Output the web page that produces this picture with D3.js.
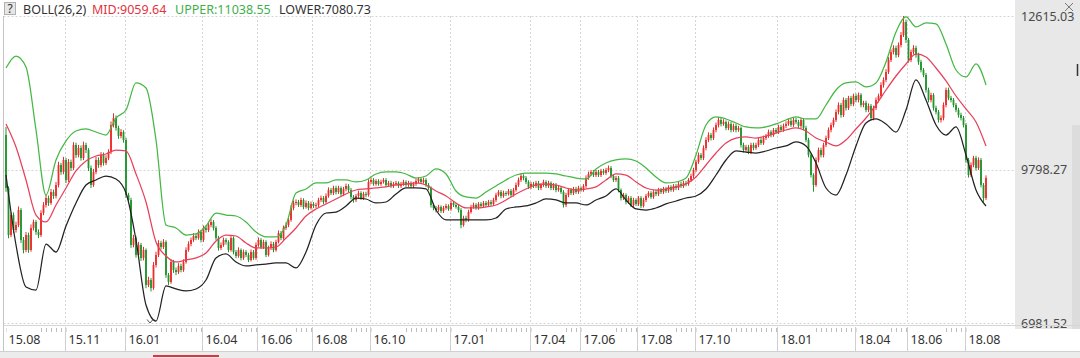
<!DOCTYPE html>
<html><head><meta charset="utf-8">
<script src="https://d3js.org/d3.v7.min.js"></script>
<style>html,body{margin:0;padding:0;background:#fff;overflow:hidden}svg{display:block}text{font-family:"Noto Sans","Liberation Sans",Arial,sans-serif}</style>
</head><body><svg id="chart" width="1080" height="358"></svg>
<script>
// ---------- data ----------
const headerTexts = ["BOLL(26,2)", "MID:9059.64", "UPPER:11038.55", "LOWER:7080.73"];
const priceTicks = [12615.03, 9798.27, 6981.52];
const monthLabels = ["15.08","15.11","16.01","16.04","16.06","16.08","16.10","17.01","17.04","17.06","17.08","17.10","18.01","18.04","18.06","18.08"];
const monthIndex = [0,24,48,79,101,123,146,178,210,230,253,276,309,340,361,384];

const opens = [10432,9459,8596,8963,8688,8780,9055,8505,8321,8596,8321,8725,8835,8651,8596,9000,9147,9275,9184,9385,9312,9514,9881,9753,9973,9606,9936,9826,10248,10064,10193,10009,10248,10156,9826,9514,9753,9973,9881,10064,9918,10009,10119,10615,10743,10560,10413,10486,10340,9330,9239,8413,8541,8230,8413,8175,8321,7679,7771,7624,8046,8230,8450,8376,8468,7863,7734,8101,7954,7917,8028,7954,8101,8321,8431,8505,8578,8541,8651,8505,8725,8688,8780,8835,8725,8541,8358,8413,8505,8468,8321,8541,8284,8211,8321,8175,8284,8230,8138,8284,8175,8413,8505,8376,8468,8230,8358,8431,8321,8468,8633,8541,8725,8780,8872,9092,9184,9202,9147,9239,9111,9184,9092,9166,9129,9147,9239,9275,9202,9312,9422,9367,9459,9385,9459,9349,9441,9496,9422,9294,9239,9312,9367,9275,9349,9330,9569,9606,9532,9587,9532,9569,9606,9514,9551,9496,9532,9551,9496,9532,9569,9514,9551,9496,9532,9587,9624,9569,9606,9514,9459,9147,9092,9055,9111,9037,9092,9129,9074,9184,9147,9111,9055,8780,8908,8872,9018,9111,9147,9092,9166,9129,9184,9147,9202,9166,9239,9330,9385,9312,9367,9349,9404,9330,9422,9514,9606,9679,9642,9569,9478,9532,9496,9551,9459,9514,9569,9496,9551,9459,9514,9422,9459,9385,9147,9330,9422,9367,9441,9385,9459,9422,9496,9642,9716,9753,9697,9753,9697,9771,9734,9789,9826,9679,9606,9642,9422,9275,9330,9202,9275,9147,9239,9166,9275,9129,9239,9312,9367,9294,9385,9349,9422,9385,9441,9404,9478,9422,9496,9459,9532,9496,9551,9532,9606,9679,9789,9936,10064,10009,10193,10340,10431,10376,10523,10615,10707,10634,10670,10560,10634,10523,10597,10523,10560,10248,10156,10211,10119,10248,10193,10248,10340,10285,10376,10413,10486,10431,10523,10486,10579,10523,10597,10634,10689,10615,10707,10670,10597,10707,10560,10340,10064,9697,9514,9973,10156,10064,10248,10376,10523,10615,10707,10853,10982,10798,11074,10927,11110,11001,11147,11074,11165,10982,11019,10890,10964,10743,10927,11074,11147,11349,11441,11587,11808,11954,12028,11899,12083,12266,12505,12175,11808,11954,12028,11899,11771,11624,11532,11257,11074,11165,10927,10853,10707,10743,10982,11257,11110,11074,10982,10890,10798,10743,10615,9973,9697,9881,10009,9826,9973,9514,9275];

const closes = [9459,8596,8963,8688,8780,9055,8505,8321,8596,8321,8725,8835,8651,8596,9000,9147,9275,9184,9385,9312,9514,9881,9753,9973,9606,9936,9826,10248,10064,10193,10009,10248,10156,9826,9514,9753,9973,9881,10064,9918,10009,10119,10615,10743,10560,10413,10486,10340,9330,9239,8413,8541,8230,8413,8175,8321,7679,7771,7624,8046,8230,8450,8376,8468,7863,7734,8101,7954,7917,8028,7954,8101,8321,8431,8505,8578,8541,8651,8505,8725,8688,8780,8835,8725,8541,8358,8413,8505,8468,8321,8541,8284,8211,8321,8175,8284,8230,8138,8284,8175,8413,8505,8376,8468,8230,8358,8431,8321,8468,8633,8541,8725,8780,8872,9092,9184,9202,9147,9239,9111,9184,9092,9166,9129,9147,9239,9275,9202,9312,9422,9367,9459,9385,9459,9349,9441,9496,9422,9294,9239,9312,9367,9275,9349,9330,9569,9606,9532,9587,9532,9569,9606,9514,9551,9496,9532,9551,9496,9532,9569,9514,9551,9496,9532,9587,9624,9569,9606,9514,9459,9147,9092,9055,9111,9037,9092,9129,9074,9184,9147,9111,9055,8780,8908,8872,9018,9111,9147,9092,9166,9129,9184,9147,9202,9166,9239,9330,9385,9312,9367,9349,9404,9330,9422,9514,9606,9679,9642,9569,9478,9532,9496,9551,9459,9514,9569,9496,9551,9459,9514,9422,9459,9385,9147,9330,9422,9367,9441,9385,9459,9422,9496,9642,9716,9753,9697,9753,9697,9771,9734,9789,9826,9679,9606,9642,9422,9275,9330,9202,9275,9147,9239,9166,9275,9129,9239,9312,9367,9294,9385,9349,9422,9385,9441,9404,9478,9422,9496,9459,9532,9496,9551,9532,9606,9679,9789,9936,10064,10009,10193,10340,10431,10376,10523,10615,10707,10634,10670,10560,10634,10523,10597,10523,10560,10248,10156,10211,10119,10248,10193,10248,10340,10285,10376,10413,10486,10431,10523,10486,10579,10523,10597,10634,10689,10615,10707,10670,10597,10707,10560,10340,10064,9697,9514,9973,10156,10064,10248,10376,10523,10615,10707,10853,10982,10798,11074,10927,11110,11001,11147,11074,11165,10982,11019,10890,10964,10743,10927,11074,11147,11349,11441,11587,11808,11954,12028,11899,12083,12266,12505,12175,11808,11954,12028,11899,11771,11624,11532,11257,11074,11165,10927,10853,10707,10743,10982,11257,11110,11074,10982,10890,10798,10743,10615,9973,9697,9881,10009,9826,9973,9514,9275,9642];

const highs = [10579,9489,9013,9010,8840,9120,9090,8560,8650,8640,8790,8880,8870,8700,9050,9200,9330,9320,9440,9430,9570,9940,9920,10030,10010,9990,9980,10300,10290,10250,10240,10310,10290,10190,9870,9810,10030,10020,10120,10110,10060,10170,10680,10830,10790,10600,10540,10520,10380,9370,9280,8600,8580,8470,8450,8380,8350,7830,7810,8100,8290,8500,8490,8520,8500,7900,8150,8140,8000,8080,8070,8150,8370,8480,8550,8630,8620,8700,8690,8770,8770,8830,8890,8870,8760,8580,8460,8550,8540,8500,8590,8570,8320,8370,8350,8330,8320,8270,8330,8320,8460,8550,8540,8510,8500,8400,8480,8470,8510,8680,8670,8770,8830,8920,9140,9230,9250,9240,9280,9270,9230,9220,9210,9200,9190,9280,9320,9310,9360,9470,9460,9500,9500,9500,9490,9480,9540,9530,9460,9330,9350,9410,9400,9390,9390,9620,9650,9640,9620,9620,9610,9640,9640,9590,9590,9570,9590,9580,9570,9610,9600,9590,9580,9570,9630,9660,9650,9650,9640,9550,9490,9180,9130,9150,9140,9130,9170,9160,9220,9220,9180,9150,9090,8950,8950,9060,9150,9190,9180,9200,9200,9220,9220,9240,9240,9280,9370,9420,9420,9410,9400,9440,9440,9460,9560,9650,9720,9710,9680,9600,9570,9570,9590,9590,9550,9610,9600,9590,9580,9550,9550,9500,9490,9420,9370,9460,9460,9480,9480,9500,9490,9530,9690,9760,9790,9790,9790,9790,9810,9810,9830,9870,9860,9710,9680,9680,9450,9370,9360,9310,9310,9280,9270,9310,9310,9280,9350,9400,9400,9420,9420,9460,9460,9480,9480,9510,9510,9530,9530,9570,9570,9590,9590,9640,9720,9830,9980,10110,10100,10240,10390,10480,10470,10570,10660,10760,10750,10720,10700,10680,10670,10640,10640,10600,10590,10290,10250,10250,10290,10290,10290,10380,10380,10420,10450,10530,10520,10560,10560,10620,10620,10640,10680,10730,10730,10750,10750,10710,10750,10740,10600,10380,10100,9730,10020,10200,10200,10290,10420,10570,10660,10750,10900,11030,11020,11120,11110,11150,11150,11190,11190,11210,11200,11060,11060,11010,11000,10970,11120,11190,11400,11490,11640,11860,12000,12080,12070,12130,12320,12615.03,12550,12210,12000,12080,12070,11940,11810,11660,11570,11300,11210,11200,10970,10890,10790,11030,11300,11300,11150,11110,11020,10930,10840,10780,10650,10010,9930,10050,10050,10020,10010,9550,9690];

const lows = [9389,8536,8556,8630,8640,8740,8450,8260,8280,8270,8290,8680,8600,8540,8560,8960,9100,9130,9150,9260,9270,9470,9700,9710,9550,9570,9770,9790,10010,10020,9960,9970,10100,9770,9460,9480,9710,9830,9840,9870,9880,9970,10080,10570,10510,10360,10370,10290,9280,9180,8360,8370,8180,8190,8120,8130,7620,7640,7560,7590,8000,8190,8330,8340,7810,7680,7700,7900,7860,7880,7910,7920,8070,8290,8390,8470,8500,8510,8460,8470,8640,8650,8740,8680,8500,8310,8320,8380,8420,8280,8290,8240,8170,8180,8130,8140,8190,8100,8110,8140,8140,8380,8340,8340,8190,8200,8320,8280,8290,8440,8500,8510,8690,8740,8840,9050,9140,9110,9110,9070,9080,9050,9060,9090,9090,9110,9200,9160,9170,9280,9330,9330,9340,9350,9310,9310,9400,9380,9250,9190,9200,9280,9240,9240,9290,9300,9530,9500,9500,9500,9500,9540,9480,9480,9460,9460,9500,9460,9460,9500,9480,9480,9460,9460,9500,9550,9530,9540,9480,9420,9100,9050,9010,9020,9000,9000,9060,9040,9040,9110,9080,9010,8720,8750,8830,8840,8990,9080,9060,9060,9090,9100,9110,9110,9130,9130,9200,9300,9270,9280,9310,9320,9290,9300,9390,9480,9570,9600,9530,9440,9440,9460,9460,9420,9420,9480,9460,9460,9420,9420,9380,9390,9350,9100,9110,9290,9330,9330,9350,9350,9390,9390,9460,9610,9680,9660,9660,9660,9660,9700,9700,9750,9640,9570,9570,9380,9230,9240,9160,9170,9110,9110,9130,9130,9090,9100,9200,9280,9260,9260,9310,9310,9350,9350,9370,9370,9390,9390,9420,9420,9460,9460,9490,9500,9570,9640,9750,9900,9970,9970,10150,10300,10330,10340,10480,10570,10590,10600,10520,10520,10480,10490,10480,10490,10200,10110,10120,10080,10080,10150,10160,10210,10250,10250,10340,10380,10390,10400,10450,10450,10490,10490,10560,10600,10580,10580,10630,10560,10560,10520,10300,10020,9650,9390,9480,9930,10020,10020,10210,10340,10480,10570,10670,10810,10750,10760,10880,10890,10960,10960,11030,11030,10940,10940,10850,10850,10700,10700,10890,11030,11110,11300,11400,11550,11770,11910,11850,11860,12040,12230,12120,11760,11770,11910,11850,11720,11580,11490,11210,11030,11030,10880,10810,10660,10660,10700,10940,11070,11030,10940,10850,10750,10700,10570,9920,9650,9660,9840,9780,9790,9470,9200,9240];

// Bollinger band values read every 4 sessions
const bandUpper = [11661,11881,11680,10523,9330,9973,10322,10505,10542,10486,10431,10743,10890,11386,11294,10340,8780,8725,8596,8615,8762,9000,8963,8945,8835,8651,8560,8560,8780,9367,9441,9551,9551,9606,9606,9569,9606,9716,9753,9753,9716,9642,9679,9808,9716,9404,9294,9275,9385,9496,9606,9697,9734,9734,9734,9716,9679,9642,9624,9808,9918,9973,9991,9955,9826,9661,9551,9569,9642,10064,10615,10762,10725,10652,10579,10560,10579,10634,10707,10762,10725,10725,10982,11257,11386,11404,11313,11386,11771,12321,12597,12414,12487,12469,12102,11624,11496,11735,11349];
const bandMid = [10634,10211,9606,8963,8835,9147,9459,9771,9955,10046,10083,10156,10138,9716,9202,8468,8211,8101,8138,8175,8266,8487,8596,8578,8450,8358,8358,8376,8541,8725,8945,9074,9166,9257,9349,9422,9441,9459,9478,9514,9532,9551,9514,9404,9312,9184,9092,9092,9111,9147,9239,9349,9441,9514,9532,9514,9459,9422,9441,9478,9606,9716,9697,9569,9459,9422,9441,9478,9532,9661,9881,10101,10285,10376,10395,10376,10413,10468,10523,10560,10505,10376,10303,10230,10340,10542,10743,10982,11257,11514,11735,11918,11863,11661,11423,11147,10909,10670,10230];
const bandLower = [9697,8413,7642,7587,8431,8284,8762,9184,9514,9606,9679,9624,9367,8505,7312,7018,7661,7606,7569,7606,7771,8175,8248,8101,8028,8046,8064,8083,8083,7991,8284,8780,9000,9018,9129,9275,9257,9184,9202,9349,9459,9459,9441,9055,8872,8872,8872,8872,8872,8908,9074,9111,9129,9184,9257,9239,9184,9184,9147,9239,9312,9441,9239,9074,9055,9092,9166,9220,9275,9312,9441,9697,9973,10138,10119,10101,10138,10193,10230,10303,10230,9918,9459,9330,9697,10230,10652,10725,10634,10486,10890,11441,11074,10615,10431,10579,10064,9422,9129];

// ---------- drawing ----------
const svg = d3.select('#chart');
const N = closes.length;
const plotL = 3.5, plotR = 1015, plotT = 16, plotB = 323;
const x = d3.scaleLinear().domain([0, N - 1]).range([6, 986]);
const step = x(1) - x(0);
const y = d3.scaleLinear().domain(d3.extent(priceTicks)).range([plotB, plotT]);
const fnt = 12.5;

// right axis panel
svg.append('rect').attr('x', plotR).attr('y', 0).attr('width', 1080 - plotR).attr('height', 329).attr('fill', '#e8e8e8');
svg.append('rect').attr('x', 1072).attr('y', 125).attr('width', 8).attr('height', 204).attr('fill', '#dcdcdc');
svg.append('line').attr('x1', 1077.5).attr('x2', 1077.5).attr('y1', 64).attr('y2', 76).attr('stroke', '#333').attr('stroke-width', 1.5);
svg.append('path').attr('d', 'M1065,3L1073,11M1073,3L1065,11').attr('stroke', '#777').attr('stroke-width', 1).attr('fill', 'none');

// horizontal gridlines
svg.append('g').selectAll('line').data(priceTicks).join('line')
  .attr('x1', plotL).attr('x2', plotR)
  .attr('y1', d => Math.round(y(d)) + 0.5).attr('y2', d => Math.round(y(d)) + 0.5)
  .attr('stroke', '#d4d4d4').attr('stroke-dasharray', '2,2');

// vertical month gridlines
const sepX = i => Math.round(x(i) - step / 2) + 0.5;
svg.append('g').selectAll('line').data(monthIndex.slice(1)).join('line')
  .attr('x1', sepX).attr('x2', sepX).attr('y1', plotT).attr('y2', plotB)
  .attr('stroke', '#d4d4d4').attr('stroke-dasharray', '2,2');

// left border
svg.append('line').attr('x1', plotL).attr('x2', plotL).attr('y1', plotT).attr('y2', 352).attr('stroke', '#c4c4c4');

// price labels
svg.append('g').selectAll('text').data(priceTicks).join('text')
  .attr('x', 1021).attr('y', d => y(d)).attr('dy', '0.36em')
  .attr('font-size', fnt).attr('fill', '#4a4a4a').text(d => d.toFixed(2));

// candles
const upC = '#ee2a2a', dnC = '#1f952c';
const cg = svg.append('g');
const idx = d3.range(N);
cg.selectAll('line').data(idx).join('line')
  .attr('x1', i => x(i)).attr('x2', i => x(i))
  .attr('y1', i => y(highs[i])).attr('y2', i => y(lows[i]))
  .attr('stroke', i => closes[i] >= opens[i] ? upC : dnC).attr('stroke-width', 1);
cg.selectAll('rect').data(idx).join('rect')
  .attr('x', i => x(i) - 0.9).attr('width', 1.8)
  .attr('y', i => y(Math.max(opens[i], closes[i])))
  .attr('height', i => Math.max(1, Math.abs(y(opens[i]) - y(closes[i]))))
  .attr('fill', i => closes[i] >= opens[i] ? upC : dnC);

// bands
const bx = k => x(k * (N - 1) / (bandMid.length - 1));
const bandLine = d3.line().x((d, k) => bx(k)).y(d => y(d)).curve(d3.curveMonotoneX);
[[bandUpper, '#44b844'], [bandMid, '#e8405a'], [bandLower, '#222']].forEach(([arr, col]) => {
  svg.append('path').attr('d', bandLine(arr)).attr('fill', 'none').attr('stroke', col).attr('stroke-width', 1.25);
});

// header
svg.append('rect').attr('x', 4.5).attr('y', 2.5).attr('width', 11).attr('height', 12).attr('fill', '#e6e6e6').attr('stroke', '#b0b0b0');
svg.append('text').attr('x', 10).attr('y', 13).attr('text-anchor', 'middle').attr('font-size', 12).attr('fill', '#333').text('?');
const hdrX = [23, 92, 175, 279];
const hdrC = ['#333', '#e2333f', '#3fb04a', '#333'];
svg.append('g').selectAll('text').data(headerTexts).join('text')
  .attr('x', (d, i) => hdrX[i]).attr('y', 13.5).attr('font-size', fnt)
  .attr('fill', (d, i) => hdrC[i]).text(d => d);

// x axis
svg.append('line').attr('x1', plotL).attr('x2', 1080).attr('y1', 325.5).attr('y2', 325.5).attr('stroke', '#d6d6d6');
const ax = svg.append('g');
ax.selectAll('line.mt').data(d3.range(0, N, 2)).join('line').attr('class', 'mt')
  .attr('x1', i => Math.round(x(i)) + 0.5).attr('x2', i => Math.round(x(i)) + 0.5)
  .attr('y1', 328).attr('y2', 332).attr('stroke', '#bdbdbd');
const lbl = ax.selectAll('g.lb').data(monthLabels).join('g').attr('class', 'lb');
lbl.append('rect').attr('x', (d, i) => sepX(monthIndex[i]) + 1).attr('y', 327).attr('width', 34).attr('height', 22).attr('fill', '#fff');
lbl.append('text').attr('x', (d, i) => sepX(monthIndex[i]) + 3).attr('y', 344)
  .attr('font-size', fnt).attr('fill', '#333').text(d => d);
ax.selectAll('line.sp').data(monthIndex.slice(1)).join('line').attr('class', 'sp')
  .attr('x1', sepX).attr('x2', sepX).attr('y1', 327).attr('y2', 351).attr('stroke', '#cfcfcf');
svg.append('path').attr('d', 'M147,319.5L150,323L153,319.5').attr('fill', 'none').attr('stroke', '#555');
svg.append('line').attr('x1', 0).attr('x2', 1080).attr('y1', 351.5).attr('y2', 351.5).attr('stroke', '#d0d0d0');
svg.append('rect').attr('x', 0).attr('y', 352).attr('width', 1080).attr('height', 6).attr('fill', '#ececec');
svg.append('rect').attr('x', 153).attr('y', 355).attr('width', 66).attr('height', 2).attr('fill', '#d9363e');
</script></body></html>
